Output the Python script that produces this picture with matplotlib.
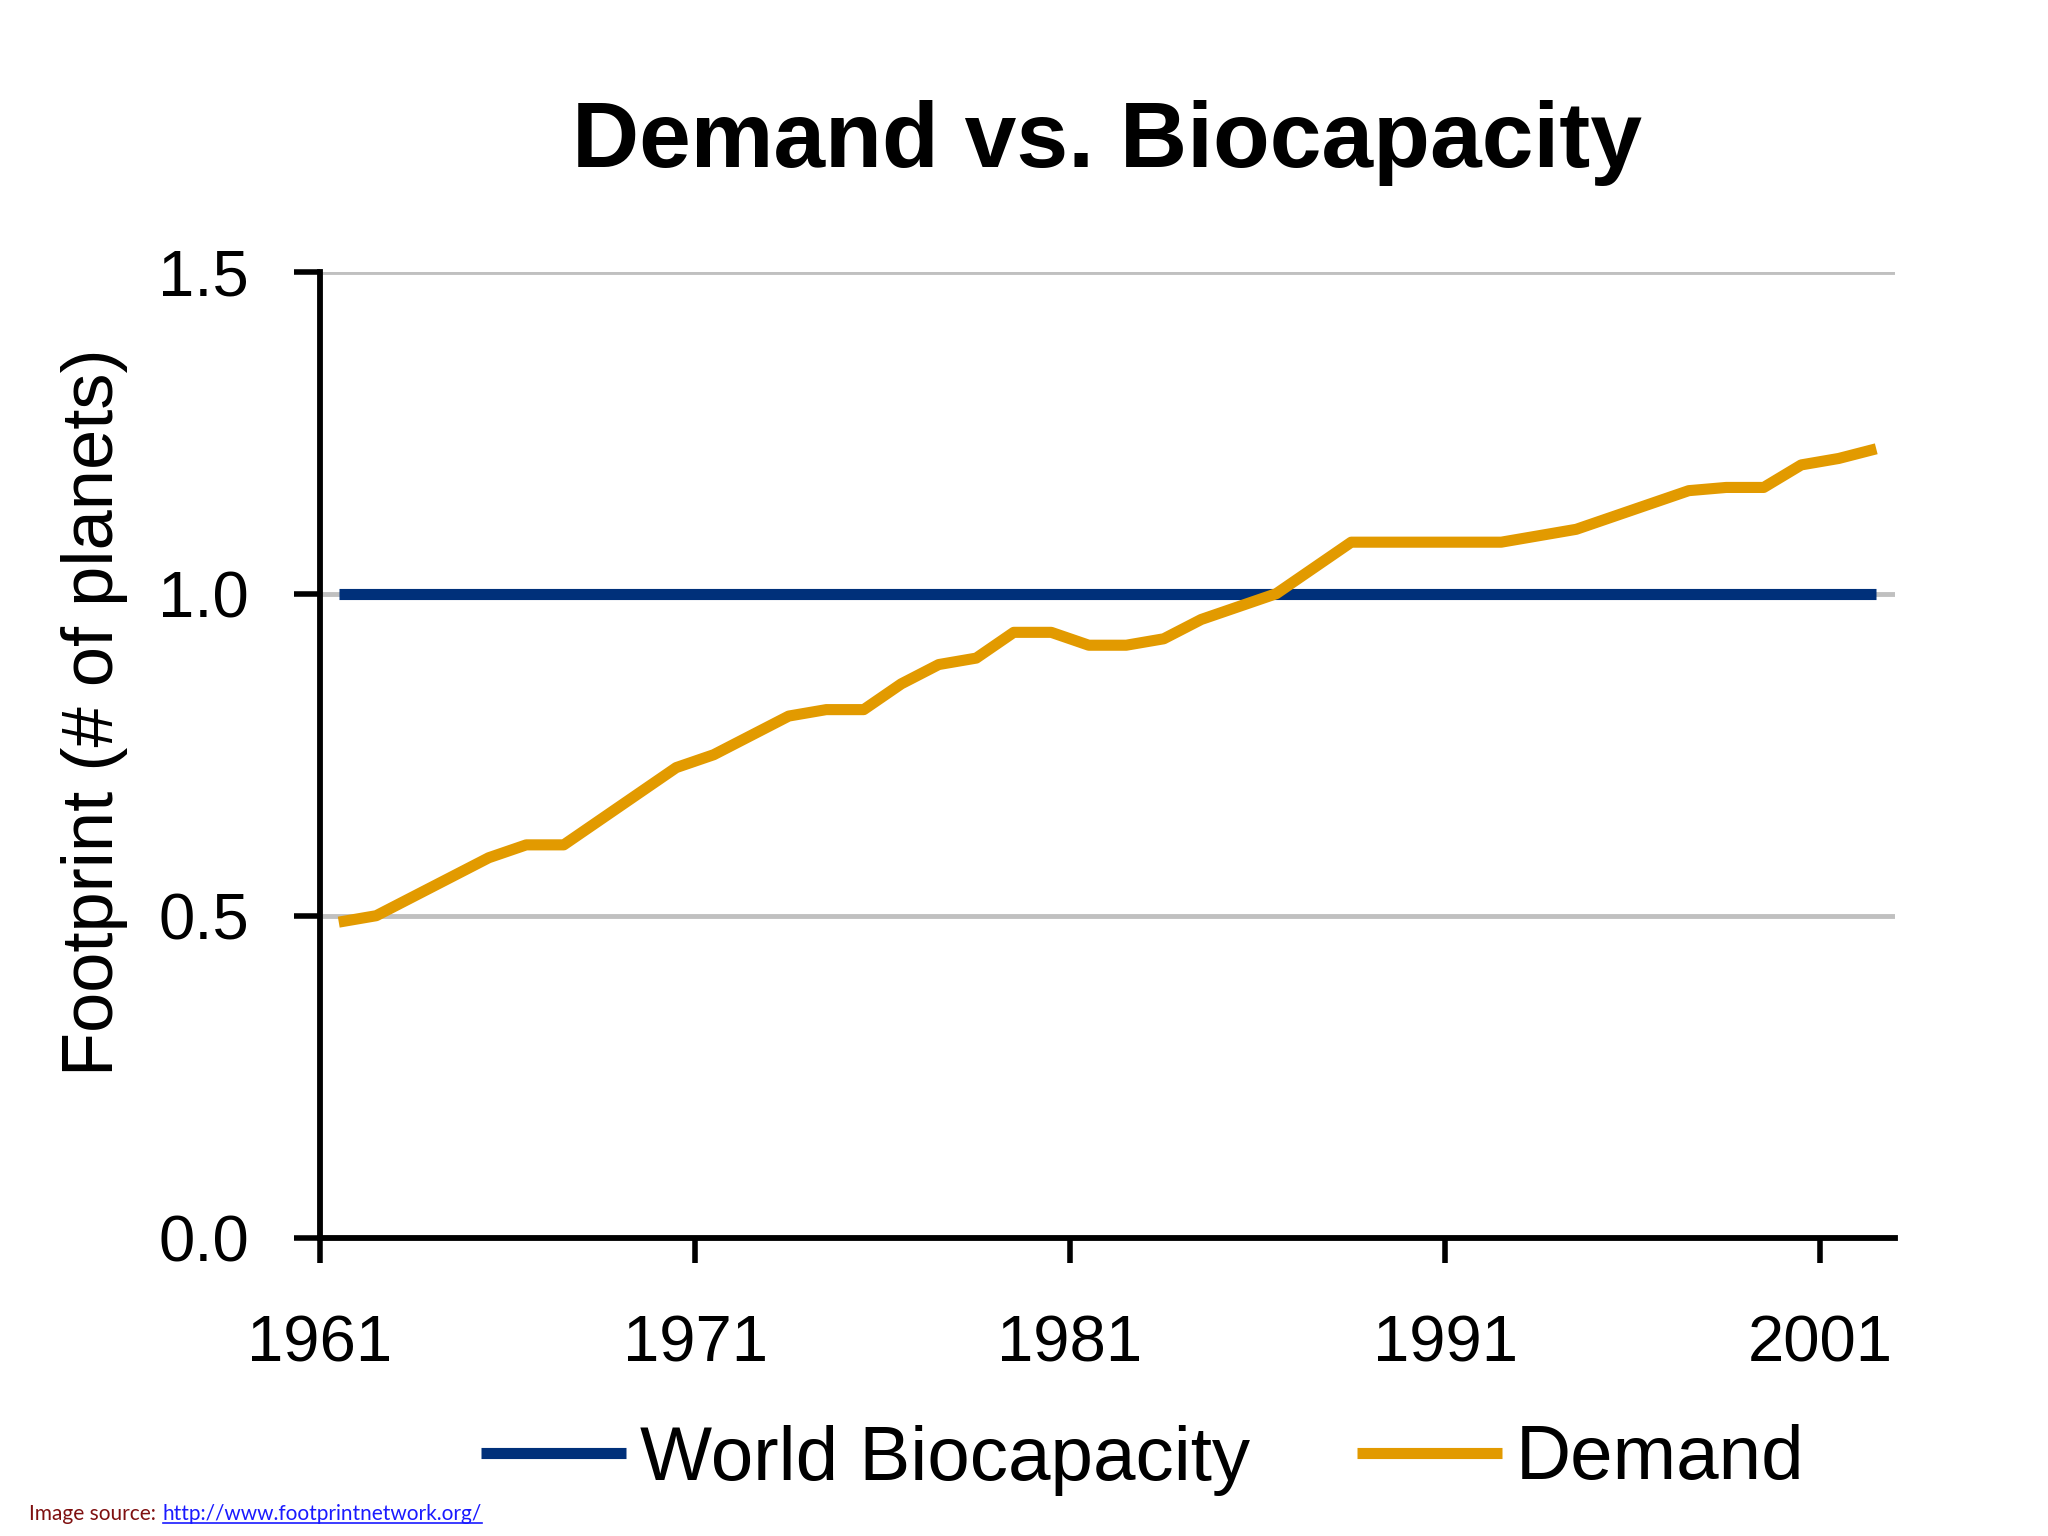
import numpy as np
import matplotlib
matplotlib.use("Agg")
import matplotlib.pyplot as plt
from matplotlib.lines import Line2D

# data (footprint in number of planets)
years = list(range(1961, 2003))
demand = [0.49, 0.50, 0.53, 0.56, 0.59, 0.61, 0.61, 0.65, 0.69, 0.73,
          0.75, 0.78, 0.81, 0.82, 0.82, 0.86, 0.89, 0.90, 0.94, 0.94,
          0.92, 0.92, 0.93, 0.96, 0.98, 1.00, 1.04, 1.08, 1.08, 1.08,
          1.08, 1.08, 1.09, 1.10, 1.12, 1.14, 1.16, 1.165, 1.165, 1.20,
          1.21, 1.225]
biocapacity = [1.0] * len(years)

xticks = [1961, 1971, 1981, 1991, 2001]
yticks = [0.0, 0.5, 1.0, 1.5]

blue = "#00307a"
orange = "#e29a00"
grid_grey = "#c0c0c0"

plt.rcParams["font.family"] = ["Liberation Sans", "DejaVu Sans"]

fig = plt.figure(figsize=(20.48, 15.36), dpi=100)
ax = fig.add_axes([320 / 2048, 1 - 1237.7 / 1536, (1895 - 320) / 2048, (1237.7 - 271.7) / 1536])

# categories sit in the middle of each year slot
x = np.array(years) + 0.5
ax.plot(x, biocapacity, color=blue, lw=8, solid_capstyle="butt", label="World Biocapacity", zorder=3)
ax.plot(x, demand, color=orange, lw=8, solid_capstyle="butt", label="Demand", zorder=4)

ax.set_xlim(1961, 2003)
ax.set_ylim(0, 1.5)
ax.set_xticks(xticks)
ax.set_yticks(yticks)
ax.set_yticklabels(["%.1f" % v for v in yticks])

for v in yticks[1:]:
    ax.axhline(v, color=grid_grey, lw=3.5, zorder=1)

for s in ["top", "right"]:
    ax.spines[s].set_visible(False)
for s in ["left", "bottom"]:
    ax.spines[s].set_linewidth(4.2)
    ax.spines[s].set_color("black")
    ax.spines[s].set_zorder(5)

ax.tick_params(axis="y", direction="out", length=19, width=4, pad=32, labelsize=47)
ax.tick_params(axis="x", direction="out", length=18, width=4, pad=37, labelsize=47)

fig.text(1107 / 2048, 1 - 167 / 1536, "Demand vs. Biocapacity", ha="center", va="baseline",
         fontsize=67, fontweight="bold")
fig.text(95 / 2048, 1 - 712 / 1536, "Footprint (# of planets)", rotation=90,
         ha="center", va="center", fontsize=52)

fig.legend(loc="center", bbox_to_anchor=(1143 / 2048, 1 - 1460 / 1536), ncol=2,
           frameon=False, fontsize=55, handlelength=1.9, handletextpad=0.18,
           columnspacing=1.4)

# image source note at the bottom left
fig.text(29 / 2048, 1 - 1520 / 1536, "Image source:", color="#7f1010",
         fontsize=15, family=["Lato", "DejaVu Sans"], va="baseline")
link = fig.text(163 / 2048, 1 - 1520 / 1536, "http://www.footprintnetwork.org/", color="#1a1aff",
                fontsize=15, family=["Lato", "DejaVu Sans"], va="baseline")
fig.canvas.draw()
bb = link.get_window_extent().transformed(fig.transFigure.inverted())
fig.add_artist(Line2D([bb.x0, bb.x1], [1 - 1523 / 1536] * 2, color="#1a1aff", lw=1.2,
                      transform=fig.transFigure))

fig.savefig("out.png", dpi=100)
